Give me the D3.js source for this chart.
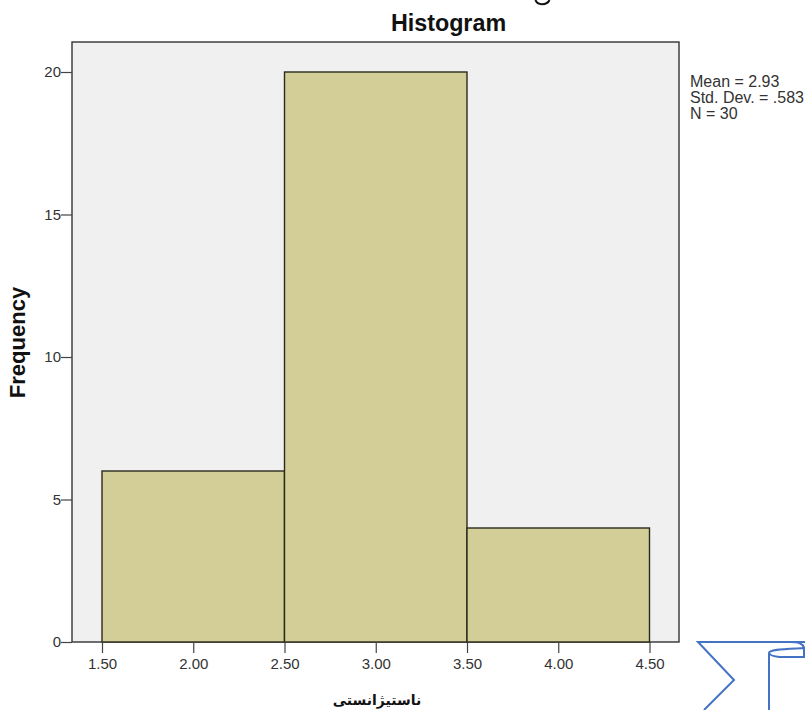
<!DOCTYPE html>
<html>
<head>
<meta charset="utf-8">
<script src="https://cdn.jsdelivr.net/npm/d3@7/dist/d3.min.js"></script>
<style>
html,body{margin:0;padding:0;background:#fff;}
svg{display:block;font-family:"Liberation Sans",Arial,sans-serif;}
</style>
</head>
<body>
<svg id="c" width="805" height="710"></svg>
<script>
const binStarts = [1.5, 2.5, 3.5];
const binEnds = [2.5, 3.5, 4.5];
const frequencies = [6, 20, 4];
const xTicks = [1.5, 2, 2.5, 3, 3.5, 4, 4.5];
const yTicks = [0, 5, 10, 15, 20];
const statLines = ["Mean = 2.93", "Std. Dev. = .583", "N = 30"];
const titleText = "Histogram";
const yLabel = "Frequency";
const xLabel = "ناستيژانستى";

const svg = d3.select("#c");
const L = 72, R = 679, T = 42, B = 642;
const x = d3.scaleLinear().domain([1.5, 4.5]).range([102, 649.5]);
const y = d3.scaleLinear().domain([0, 20]).range([B, 72]);

svg.append("rect").attr("x", L).attr("y", T).attr("width", R - L).attr("height", B - T)
  .attr("fill", "#f0f0f0").attr("stroke", "#333").attr("stroke-width", 1.4);

svg.selectAll("rect.bar").data(frequencies).join("rect").attr("class", "bar")
  .attr("x", (d, i) => x(binStarts[i]))
  .attr("width", (d, i) => x(binEnds[i]) - x(binStarts[i]))
  .attr("y", d => y(d))
  .attr("height", d => B - y(d))
  .attr("fill", "#d3ce97").attr("stroke", "#2a2a1c").attr("stroke-width", 1.4);

const xAxis = d3.axisBottom(x).tickValues(xTicks).tickFormat(d3.format(".2f")).tickSize(11).tickSizeOuter(0);
const gx = svg.append("g").attr("transform", `translate(0,${B})`).call(xAxis);
gx.select(".domain").remove();
gx.selectAll("line").attr("stroke", "#444").attr("stroke-width", 1.2);
gx.selectAll("text").attr("font-size", 15).attr("fill", "#333").attr("y", 27).attr("dy", 0);

const yAxis = d3.axisLeft(y).tickValues(yTicks).tickSize(11).tickSizeOuter(0);
const gy = svg.append("g").attr("transform", `translate(${L},0)`).call(yAxis);
gy.select(".domain").remove();
gy.selectAll("line").attr("stroke", "#444").attr("stroke-width", 1.2);
gy.selectAll("text").attr("font-size", 15).attr("fill", "#333").attr("x", -11);

svg.append("text").attr("x", 448.5).attr("y", 31).attr("text-anchor", "middle")
  .attr("font-size", 23.3).attr("font-weight", "bold").attr("fill", "#111").text(titleText);

svg.append("text").attr("transform", "translate(25,342.5) rotate(-90)").attr("text-anchor", "middle")
  .attr("font-size", 22).attr("font-weight", "bold").attr("fill", "#111").text(yLabel);

svg.append("text").attr("x", 377).attr("y", 705).attr("text-anchor", "middle")
  .attr("font-size", 14).attr("font-weight", "bold").attr("fill", "#111")
  .attr("style", "font-family:'DejaVu Sans','Noto Sans',sans-serif").attr("direction", "rtl").text(xLabel);

svg.selectAll("text.stat").data(statLines).join("text").attr("class", "stat")
  .attr("x", 690).attr("y", (d, i) => 87 + i * 15.8)
  .attr("font-size", 16).attr("fill", "#333").text(d => d);

const blue = "#4472c4";
const deco = d3.path();
deco.moveTo(805, 642); deco.lineTo(698, 642); deco.lineTo(734, 680); deco.lineTo(704, 710);
deco.moveTo(769, 710); deco.lineTo(769, 653);
deco.bezierCurveTo(769, 649, 785, 649, 805, 648);
deco.moveTo(769, 653); deco.bezierCurveTo(771, 658, 785, 657, 805, 657);
deco.moveTo(790, 642); deco.bezierCurveTo(800, 642, 803, 644, 804, 648); deco.lineTo(804, 657);
svg.append("path").attr("d", deco.toString()).attr("fill", "none").attr("stroke", blue).attr("stroke-width", 2);

const clippedGlyph = d3.path();
clippedGlyph.moveTo(535.5, 0);
clippedGlyph.bezierCurveTo(537, 5.5, 547, 5.5, 549.5, 0);
svg.append("path").attr("d", clippedGlyph.toString()).attr("fill", "none").attr("stroke", "#111").attr("stroke-width", 2);
</script>
</body>
</html>
